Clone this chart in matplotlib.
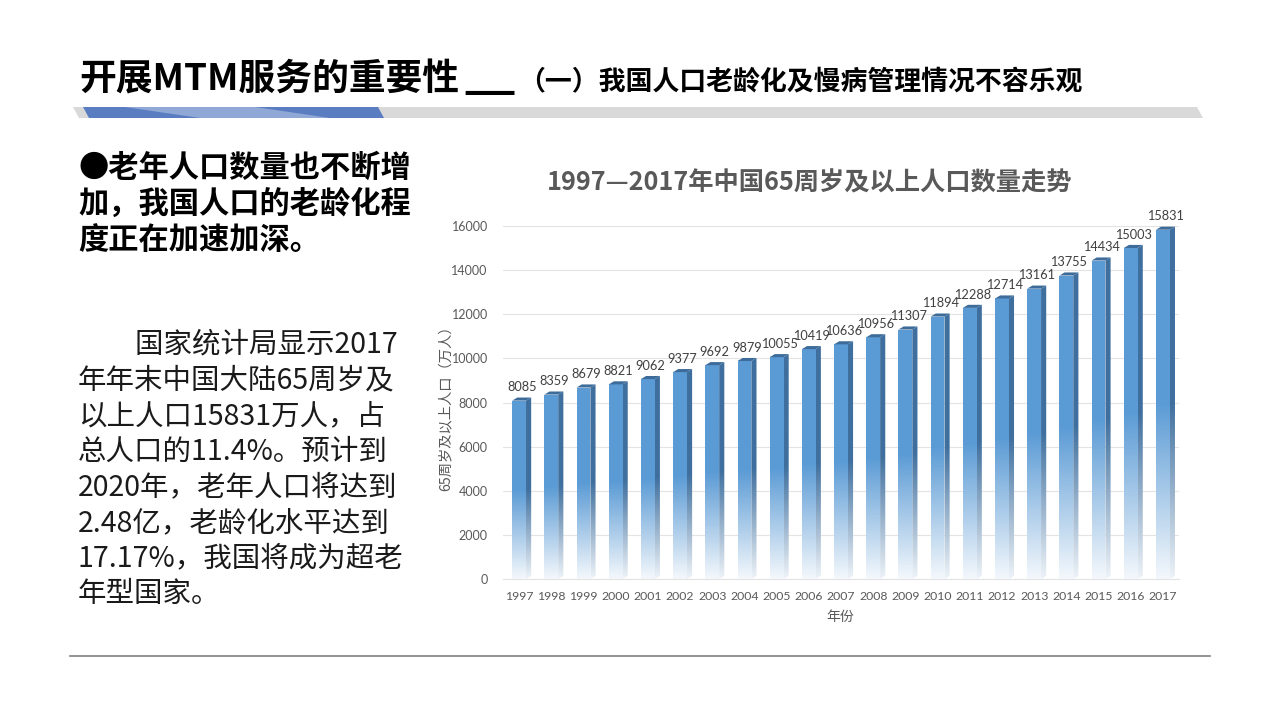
import numpy as np
import matplotlib
matplotlib.use("Agg")
import matplotlib.pyplot as plt
from matplotlib.patches import Polygon
from matplotlib.colors import LinearSegmentedColormap

plt.rcParams['font.family'] = ['Noto Sans CJK SC', 'DejaVu Sans']

# ---------------- data ----------------
years = ['1997', '1998', '1999', '2000', '2001', '2002', '2003', '2004', '2005', '2006',
         '2007', '2008', '2009', '2010', '2011', '2012', '2013', '2014', '2015', '2016', '2017']
values = [8085, 8359, 8679, 8821, 9062, 9377, 9692, 9879, 10055, 10419,
          10636, 10956, 11307, 11894, 12288, 12714, 13161, 13755, 14434, 15003, 15831]
y_ticks = [0, 2000, 4000, 6000, 8000, 10000, 12000, 14000, 16000]

page_title_main = '开展MTM服务的重要性'
page_title_dash = '—'
page_title_sub = '（一）我国人口老龄化及慢病管理情况不容乐观'
bullet_lines = ['●老年人口数量也不断增', '加，我国人口的老龄化程', '度正在加速加深。']
body_lines = ['　　国家统计局显示2017', '年年末中国大陆65周岁及', '以上人口15831万人，占',
              '总人口的11.4%。预计到', '2020年，老年人口将达到', '2.48亿，老龄化水平达到',
              '17.17%，我国将成为超老', '年型国家。']
chart_title = '1997—2017年中国65周岁及以上人口数量走势'
y_label = '65周岁及以上人口（万人）'
x_label = '年份'

W, H = 1280, 720
fig = plt.figure(figsize=(12.8, 7.2), dpi=100)
fig.patch.set_facecolor('white')

# background overlay axes in pixel coordinates
bg = fig.add_axes([0, 0, 1, 1], zorder=0)
bg.set_xlim(0, W)
bg.set_ylim(H, 0)
bg.axis('off')

# page title
bg.text(79, 80, page_title_main, fontsize=26.5, fontweight='bold', color='black',
        va='center', ha='left')
bg.text(462, 108, page_title_dash, fontsize=39, fontweight='normal', color='black',
        va='baseline', ha='left', family=['DejaVu Sans'])
bg.text(518, 82, page_title_sub, fontsize=19.4, fontweight='bold', color='black',
        va='center', ha='left')

# header bar
bg.add_patch(Polygon([(73, 107), (1197, 107), (1203, 118), (79, 118)], closed=True,
                     facecolor='#D9D9D9', edgecolor='none'))
bg.add_patch(Polygon([(83, 107), (378, 107), (384, 118), (89, 118)], closed=True,
                     facecolor='#5A7CC0', edgecolor='none'))
bg.add_patch(Polygon([(125, 107), (255, 107), (330, 118), (200, 118)], closed=True,
                     facecolor='#8FA8D6', edgecolor='none'))

# left texts
for i, line in enumerate(bullet_lines):
    bg.text(78, 168 + i * 36, line, fontsize=21.8, fontweight='bold', color='black',
            va='center', ha='left')
for i, line in enumerate(body_lines):
    bg.text(78, 345 + i * 35.6, line, fontsize=20.5, fontweight='normal', color='#1a1a1a',
            va='center', ha='left')

# bottom rule
bg.plot([70, 1210], [656, 656], color='#808080', lw=1.2)

# chart title and axis labels
bg.text(810, 183, chart_title, fontsize=18.2, fontweight='bold', color='#595959',
        va='center', ha='center')
bg.text(446, 405, y_label, fontsize=10.3, color='#595959', rotation=90,
        va='center', ha='center')
bg.text(840, 617, x_label, fontsize=10, color='#595959', va='center', ha='center')

# ---------------- chart ----------------
ax = fig.add_axes([503 / W, 1 - 579 / H, 676 / W, 353 / H], zorder=1)
ax.patch.set_alpha(0)
x = np.arange(len(years))
bw = 0.43
bars = ax.bar(x, values, width=bw, color='none', edgecolor='none')
ax.set_xlim(-0.5, len(years) - 0.5)
ax.set_ylim(0, 16000)

dx = 0.16
dy = 140

front_cmap = LinearSegmentedColormap.from_list('f', [(0, '#F4F8FC'), (0.5, '#5B9BD5'), (1, '#5B9BD5')])
side_cmap = LinearSegmentedColormap.from_list('s', [(0, '#EEF3F8'), (0.5, '#3F6F9E'), (1, '#3F6F9E')])
grad = np.linspace(0, 1, 256).reshape(-1, 1)
num_font = ['Lato', 'DejaVu Sans']

for rect in bars:
    x0 = rect.get_x()
    w = rect.get_width()
    h = rect.get_height()
    x1 = x0 + w
    front = Polygon([(x0, 0), (x1, 0), (x1, h), (x0, h)], closed=True,
                    facecolor='none', edgecolor='none')
    side = Polygon([(x1, 0), (x1 + dx, dy), (x1 + dx, h + dy), (x1, h)], closed=True,
                   facecolor='none', edgecolor='none')
    top = Polygon([(x0, h), (x0 + dx, h + dy), (x1 + dx, h + dy), (x1, h)], closed=True,
                  facecolor='#3E6C9A', edgecolor='none', zorder=3)
    ax.add_patch(front)
    ax.add_patch(side)
    ax.add_patch(top)
    im1 = ax.imshow(grad, cmap=front_cmap, origin='lower', aspect='auto',
                    extent=[x0, x1, 0, h], zorder=2, interpolation='bilinear')
    im1.set_clip_path(front)
    im2 = ax.imshow(grad, cmap=side_cmap, origin='lower', aspect='auto',
                    extent=[x1, x1 + dx, 0, h + dy], zorder=2, interpolation='bilinear')
    im2.set_clip_path(side)
    ax.annotate(f'{int(h)}', (rect.get_x() + w / 2 + dx / 2, h + dy), xytext=(0, 3),
                textcoords='offset points', ha='center', va='bottom', fontsize=9.2,
                color='#404040', family=num_font, annotation_clip=False)

ax.set_xlim(-0.5, len(years) - 0.5)
ax.set_ylim(0, 16000)
ax.set_yticks(y_ticks)
ax.set_yticklabels([str(t) for t in y_ticks], fontsize=9, color='#595959', family=num_font)
ax.set_xticks(x)
ax.set_xticklabels(years, fontsize=8.8, color='#595959', family=num_font)
ax.tick_params(axis='both', length=0)
ax.tick_params(axis='y', pad=11)
ax.tick_params(axis='x', pad=9)
ax.grid(axis='y', color='#E3E3E3', lw=0.8)
ax.set_axisbelow(True)
for s in ['top', 'right', 'left']:
    ax.spines[s].set_visible(False)
ax.spines['bottom'].set_color('#E3E3E3')
ax.spines['bottom'].set_linewidth(0.8)

fig.savefig('out.png', dpi=100, facecolor='white')
